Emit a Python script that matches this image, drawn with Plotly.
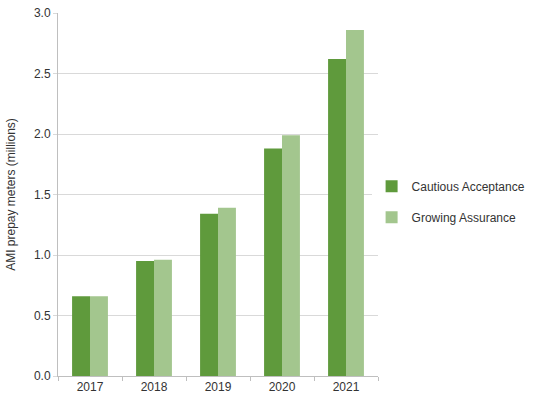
import plotly.graph_objects as go

years = ["2017", "2018", "2019", "2020", "2021"]
cautious = [0.66, 0.95, 1.34, 1.88, 2.62]
growing = [0.66, 0.96, 1.39, 1.99, 2.86]
y_ticks = [0.0, 0.5, 1.0, 1.5, 2.0, 2.5, 3.0]
y_tick_labels = ["0.0", "0.5", "1.0", "1.5", "2.0", "2.5", "3.0"]

fig = go.Figure()
fig.add_trace(go.Bar(x=years, y=cautious, name="Cautious Acceptance",
                     marker=dict(color="#5f9a3c", line=dict(width=0)),
                     legendgroup="a"))
fig.add_trace(go.Bar(x=years, y=growing, name="Growing Assurance",
                     marker=dict(color="#a3c68e", line=dict(width=0)),
                     legendgroup="b"))

fig.update_layout(
    width=552, height=407,
    margin=dict(l=58, r=174, t=13, b=31),
    paper_bgcolor="white", plot_bgcolor="white",
    barmode="group", bargap=0.44, bargroupgap=0,
    font=dict(family="Liberation Sans, Arial, sans-serif", size=12, color="#333333"),
    legend=dict(x=0.98, xanchor="left", y=0.48, yanchor="middle",
                tracegroupgap=12, itemwidth=30,
                font=dict(size=12, color="#333333")),
    xaxis=dict(type="category", showgrid=False, showline=True,
               linecolor="#bfbfbf", linewidth=1, automargin=False,
               ticks="outside", tickson="boundaries", ticklen=4,
               tickcolor="#bfbfbf", tickfont=dict(size=12, color="#333333")),
    yaxis=dict(range=[0, 3.0], tickvals=y_ticks, ticktext=y_tick_labels,
               showgrid=True, gridcolor="#d9d9d9", gridwidth=1,
               showline=True, linecolor="#bfbfbf", linewidth=1,
               ticks="outside", ticklen=4, tickcolor="#d9d9d9",
               zeroline=False, automargin=False,
               title=dict(text="AMI prepay meters (millions)",
                          font=dict(size=12, color="#333333")),
               tickfont=dict(size=12, color="#333333")),
)

fig.write_html("out.html", config={"displayModeBar": False},
               post_script="document.body.style.margin='0';")
